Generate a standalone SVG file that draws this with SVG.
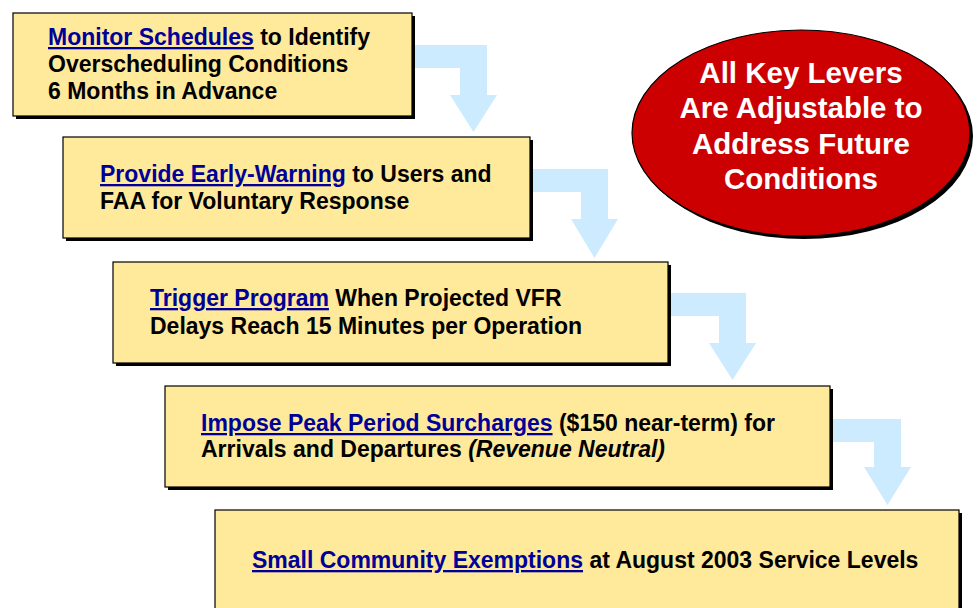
<svg xmlns="http://www.w3.org/2000/svg" width="978" height="608" viewBox="0 0 978 608">
<style>
.box{fill:#FFE99B;stroke:#000;stroke-width:1.2}
.shadow{fill:#000}
.arrow{fill:#CCEBFF}
.t{font-family:"Liberation Sans",Arial,sans-serif;font-weight:bold;font-size:23px;fill:#000}
.lnk{fill:#000099;text-decoration:underline;text-decoration-thickness:2.5px;text-underline-offset:3px}
.e{font-family:"Liberation Sans",Arial,sans-serif;font-weight:bold;font-size:29.5px;fill:#fff;text-anchor:middle}
</style>
<rect width="978" height="608" fill="#fff"/>
<g id="connectors">
<path class="arrow" d="M405,45 H487 V95 H497 L473.5,132 L450,95 H460 V68 H405 Z"/>
<path class="arrow" d="M523,169 H608 V219 H618 L594.5,258 L571,219 H581 V192 H523 Z"/>
<path class="arrow" d="M661,293 H746 V343 H756 L732.5,380 L709,343 H719 V316 H661 Z"/>
<path class="arrow" d="M823,419 H901 V467 H911 L887.5,505 L864,467 H874 V442 H823 Z"/>
</g>
<g id="node1">
<rect class="shadow" x="16" y="16" width="399" height="103"/>
<rect class="box" x="13" y="13" width="399" height="103"/>
<text class="t" x="48" y="45"><tspan class="lnk">Monitor Schedules</tspan> to Identify</text>
<text class="t" x="48" y="72">Overscheduling Conditions</text>
<text class="t" x="48" y="99">6 Months in Advance</text>
</g>
<g id="node2">
<rect class="shadow" x="66" y="140" width="467" height="101"/>
<rect class="box" x="63" y="137" width="467" height="101"/>
<text class="t" x="100" y="182"><tspan class="lnk">Provide Early-Warning</tspan> to Users and</text>
<text class="t" x="100" y="209">FAA for Voluntary Response</text>
</g>
<g id="node3">
<rect class="shadow" x="116" y="265" width="555" height="101"/>
<rect class="box" x="113" y="262" width="555" height="101"/>
<text class="t" x="150" y="306"><tspan class="lnk">Trigger Program</tspan> When Projected VFR</text>
<text class="t" x="150" y="334">Delays Reach 15 Minutes per Operation</text>
</g>
<g id="node4">
<rect class="shadow" x="168" y="389" width="665" height="101"/>
<rect class="box" x="165" y="386" width="665" height="101"/>
<text class="t" x="201" y="431"><tspan class="lnk">Impose Peak Period Surcharges</tspan> ($150 near-term) for</text>
<text class="t" x="201" y="457">Arrivals and Departures <tspan font-style="italic">(Revenue Neutral)</tspan></text>
</g>
<g id="node5">
<rect class="shadow" x="218" y="513" width="744" height="110"/>
<rect class="box" x="215" y="510" width="744" height="110"/>
<text class="t" x="252" y="568"><tspan class="lnk">Small Community Exemptions</tspan> at August 2003 Service Levels</text>
</g>
<g id="oval">
<ellipse cx="804" cy="136" rx="169" ry="103" fill="#000"/>
<ellipse cx="801" cy="133" rx="169" ry="103" fill="#CC0000" stroke="#000" stroke-width="1.2"/>
<text class="e" x="801" y="83">All Key Levers</text>
<text class="e" x="801" y="118">Are Adjustable to</text>
<text class="e" x="801" y="154">Address Future</text>
<text class="e" x="801" y="189">Conditions</text>
</g>
</svg>
